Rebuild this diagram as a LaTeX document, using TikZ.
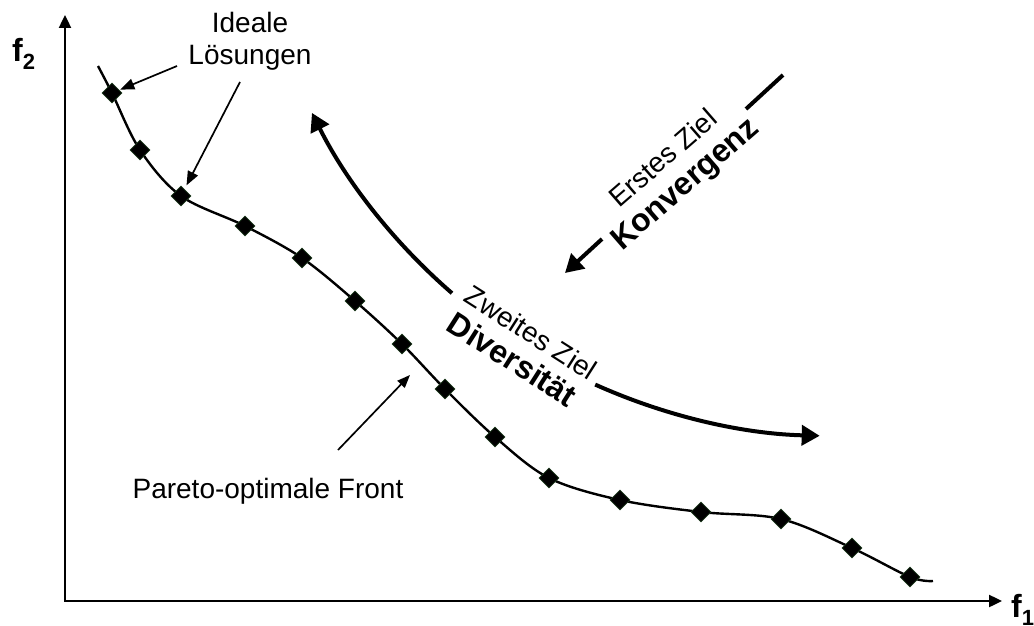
\documentclass[tikz,border=0pt]{standalone}
\usepackage{fontspec}
\setmainfont{Liberation Sans}
\usetikzlibrary{arrows.meta,shapes.geometric,calc}
\definecolor{dgreen}{HTML}{1E3A1E}
\begin{document}
\begin{tikzpicture}[x=1pt,y=-1pt,
  axis/.style={line width=2.4pt,{Triangle[length=13pt,width=12pt]}-{Triangle[length=13pt,width=12pt]}},
  thinarrow/.style={line width=1.7pt,-{Triangle[length=14pt,width=11pt]}},
  bigarrow/.style={line width=4pt,-{Triangle[length=18pt,width=20pt]}},
  bigline/.style={line width=4pt},
  front/.style={line width=2.4pt,line join=round},
  dia/.style={diamond,fill=black,draw=dgreen,line width=0.8pt,inner sep=0pt,minimum size=20pt},
  lbl/.style={font=\fontsize{28}{32}\selectfont,inner sep=0pt},
  axlbl/.style={font=\fontsize{32}{32}\selectfont\bfseries,inner sep=0pt,anchor=base west},
  goal/.style={font=\fontsize{28}{34}\selectfont,inner sep=0pt}
]
\useasboundingbox (0,0) rectangle (1034,626);

% axes
\coordinate (O) at (65,601);
\coordinate (ytop) at (65,15);
\coordinate (xend) at (1002,601);
\draw[axis] (ytop) -- (O) -- (xend);
\node[axlbl] (f2) at (12,62) {f\raisebox{-8pt}{\fontsize{22}{22}\selectfont 2}};
\node[axlbl] (f1) at (1011,617) {f\raisebox{-8pt}{\fontsize{22}{22}\selectfont 1}};

% Pareto front
\draw[front] plot[smooth,tension=0.55] coordinates {(98,66) (112,93) (140,150) (181,196) (245,226) (302,258) (355,301) (402,344) (445,389) (495,437) (549,478) (620,500) (701,512) (781,519) (852,548) (910,577) (933,581)};
\foreach \i/\p in {1/{(112,93)},2/{(140,150)},3/{(181,196)},4/{(245,226)},5/{(302,258)},6/{(355,301)},7/{(402,344)},8/{(445,389)},9/{(495,437)},10/{(549,478)},11/{(620,500)},12/{(701,512)},13/{(781,519)},14/{(852,548)},15/{(910,577)}}
  \node[dia] (d\i) at \p {};

% labels
\node[lbl,anchor=base] (ideale) at (250,33) {Ideale};
\node[lbl,anchor=base] (loes) at (250,65) {Lösungen};
\node[lbl,anchor=base] (pareto) at (268,498) {Pareto-optimale Front};

\coordinate (a1s) at (177,66);
\coordinate (a2s) at (240,82);
\draw[thinarrow,shorten >=9pt] (a1s) -- (d1.center);
\draw[thinarrow,shorten >=12pt] (a2s) -- (d3.center);
\coordinate (p1) at (338,450);
\coordinate (p2) at (410,375);
\draw[thinarrow,-{Triangle[length=13pt,width=10pt]}] (p1) -- (p2);

% Konvergenz arrow
\coordinate (k1) at (783,75);
\coordinate (k2) at (746,109);
\coordinate (k3) at (602,239);
\coordinate (k4) at (565,273);
\draw[bigline] (k1) -- (k2);
\draw[bigarrow] (k3) -- (k4);
\node[goal,rotate=41,align=center] (konv) at (676,173) {Erstes Ziel\\{\bfseries\fontsize{32}{34}\selectfont Konvergenz}};

% Diversitaet arrow
\coordinate (cc) at (835,-149);
\coordinate (s1) at ($(cc)+(130.9:585)$);
\coordinate (s2) at ($(cc)+(114.2:585)$);
\draw[bigarrow] (s1) arc[start angle=130.9,end angle=153.4,radius=585];
\draw[bigarrow] (s2) arc[start angle=114.2,end angle=91.5,radius=585];
\node[goal,rotate=-32.5,align=left] (div) at (522,347) {Zweites Ziel\\{\bfseries\fontsize{32}{34}\selectfont Diversität}};
\end{tikzpicture}
\end{document}
